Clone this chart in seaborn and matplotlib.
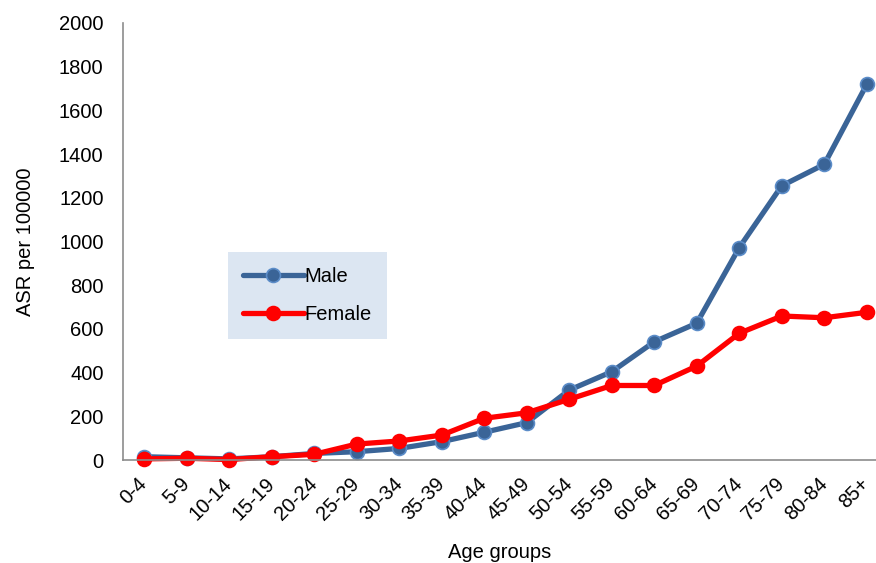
import matplotlib
matplotlib.use("Agg")
import matplotlib.pyplot as plt
import seaborn as sns
import pandas as pd

age_groups = ["0-4", "5-9", "10-14", "15-19", "20-24", "25-29", "30-34", "35-39",
              "40-44", "45-49", "50-54", "55-59", "60-64", "65-69", "70-74", "75-79",
              "80-84", "85+"]
male = [15, 10, 5, 15, 30, 38, 53, 84, 127, 171, 320, 404, 541, 626, 972, 1255, 1353, 1719]
female = [5, 8, 2, 15, 26, 73, 87, 114, 191, 216, 278, 341, 341, 430, 580, 659, 651, 676]
y_ticks = [0, 200, 400, 600, 800, 1000, 1200, 1400, 1600, 1800, 2000]

df = pd.DataFrame({
    "age": age_groups * 2,
    "pos": list(range(len(age_groups))) * 2,
    "ASR": male + female,
    "sex": ["Male"] * len(age_groups) + ["Female"] * len(age_groups),
})

sns.set_style("white")
plt.rcParams["font.family"] = ["Liberation Sans", "DejaVu Sans"]
plt.rcParams["text.color"] = "black"
plt.rcParams["axes.labelcolor"] = "black"
plt.rcParams["xtick.color"] = "black"
plt.rcParams["ytick.color"] = "black"

FS = 14.5
W, H = 876, 563
fig = plt.figure(figsize=(W / 100, H / 100), dpi=100)
ax = fig.add_axes([123 / W, 1 - 460 / H, (876 - 123) / W, (460 - 23) / H])

styles = {
    "Male": dict(color="#3A6497", mfc="#3A6497", mec="#5B8CC8"),
    "Female": dict(color="#FF0000", mfc="#FF0000", mec="#FF0000"),
}
for sex in ["Male", "Female"]:
    sub = df[df["sex"] == sex]
    st = styles[sex]
    sns.lineplot(data=sub, x="pos", y="ASR", ax=ax, color=st["color"], lw=3.8,
                 marker="o", markersize=10, markerfacecolor=st["mfc"],
                 markeredgecolor=st["mec"], markeredgewidth=1.2, label=sex,
                 clip_on=False)

step = 42.5
ax.set_xlim(-0.5, -0.5 + (876 - 123) / step)
ax.set_ylim(0, 2000)
ax.set_yticks(y_ticks)
ax.set_yticklabels([str(v) for v in y_ticks], fontsize=FS)
ax.set_xticks(range(len(age_groups)))
ax.set_xticklabels(age_groups, fontsize=FS, rotation=45, ha="right",
                   va="center", rotation_mode="anchor")
ax.tick_params(axis="x", length=0, pad=15)
ax.tick_params(axis="y", length=0, pad=14)

for side in ["top", "right"]:
    ax.spines[side].set_visible(False)
for side in ["left", "bottom"]:
    ax.spines[side].set_color("#8C8C8C")
    ax.spines[side].set_linewidth(1.2)

ax.set_xlabel("Age groups", fontsize=FS, labelpad=14)
ax.set_ylabel("ASR per 100000", fontsize=FS, labelpad=17)

leg = ax.legend(loc="upper left", bbox_to_anchor=((228 - 123) / (876 - 123), (460 - 252) / 437),
                fontsize=FS, frameon=True, fancybox=False, handlelength=3.0,
                handletextpad=0.05, borderpad=0.75, labelspacing=0.95,
                borderaxespad=0)
leg.get_frame().set_facecolor("#DCE6F2")
leg.get_frame().set_edgecolor("none")
leg.get_frame().set_alpha(1)

fig.savefig("out.png", dpi=100)
